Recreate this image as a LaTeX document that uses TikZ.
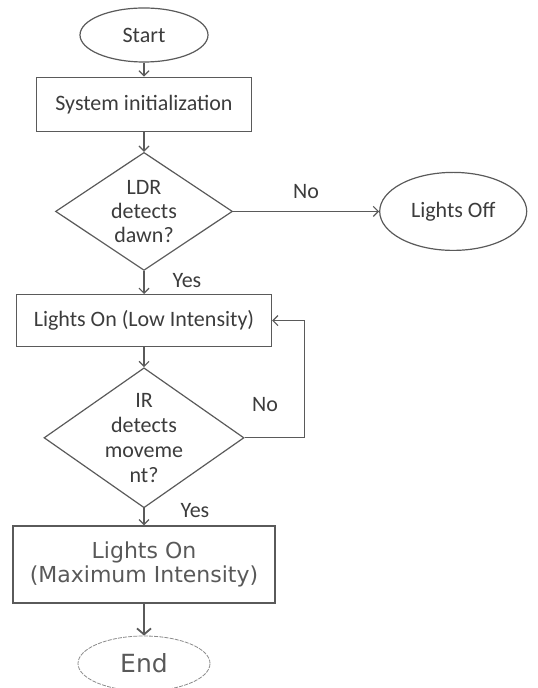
\documentclass[tikz,border=0pt]{standalone}
\usepackage{fontspec}
\setmainfont{Carlito}
\newfontfamily\verd{DejaVu Sans}
\usetikzlibrary{arrows.meta, positioning, shapes.geometric}

\definecolor{ink}{HTML}{3C3C3C}
\definecolor{edge}{HTML}{5A5A5A}

\begin{document}
\begin{tikzpicture}[x=0.5pt, y=0.5pt,
node distance = 10pt and 73pt,
 every node/.style = {text=ink, font=\fontsize{11}{12}\selectfont},
   term/.style = {ellipse, draw=edge, inner sep=0pt},
    box/.style = {rectangle, draw=edge, inner sep=0pt, align=center},
   test/.style = {diamond, draw=edge, inner sep=0pt, aspect=1.5, align=center},
    lbl/.style = {inner sep=1pt},
      > = {Straight Barb[length=2.5pt, width=5pt]},
   line width = 0.6pt,
         ]
\useasboundingbox (0,0) rectangle (537,-688);
\node (start) [term, minimum width=64pt, minimum height=27pt] at (144,-35) {Start};
\node (init)  [box, below=7pt of start, minimum width=107.5pt, minimum height=27pt] {System initialization};
\node (ldr)   [test, below=of init, minimum width=88.5pt, minimum height=59pt] {LDR\\ detects\\ dawn?};
\node (off)   [term, right=of ldr, minimum width=73.5pt, minimum height=39pt] {Lights Off};
\node (low)   [box, below=11.5pt of ldr, minimum width=127.5pt, minimum height=26pt] {Lights On (Low Intensity)};
\node (ir)    [test, below=of low, minimum width=100pt, minimum height=70pt, inner sep=-3pt,
               font=\fontsize{11}{12.5}\selectfont] {IR\\ detects\\ moveme\\ nt?};
\node (max)   [box, below=8.5pt of ir, minimum width=131pt, minimum height=38.5pt,
               text=ink!85, font=\verd\fontsize{11}{11.8}\selectfont] {Lights On\\ (Maximum Intensity)};
\node (end)   [term, below=16pt of max, minimum width=66pt, minimum height=27.5pt,
               draw=edge!70, dash pattern=on 2pt off 0.6pt, line width=0.4pt,
               text=ink!85, font=\verd\fontsize{12.5}{14}\selectfont] {End};

%
\draw[edge, ->] (start) -- (init);
\draw[edge, ->] (init) -- (ldr);
\draw[edge, ->] (ldr) -- node[lbl, above=5pt] {No} (off);
\draw[edge, ->] (ldr) -- node[lbl, right=13pt, pos=0.4] {Yes} (low);
\draw[edge, ->] (low) -- (ir);
\draw[edge, ->] (ir.east) -- ++(60,0) |- node[lbl, pos=0.14, left=12pt] {No} (low.east);
\draw[edge, ->] (ir) -- node[lbl, right=17pt, pos=0.1] {Yes} (max);
\draw[edge, ->, line width=0.9pt, > = {Straight Barb[length=3pt, width=7pt]}] (max) -- (end);
\end{tikzpicture}
\end{document}
